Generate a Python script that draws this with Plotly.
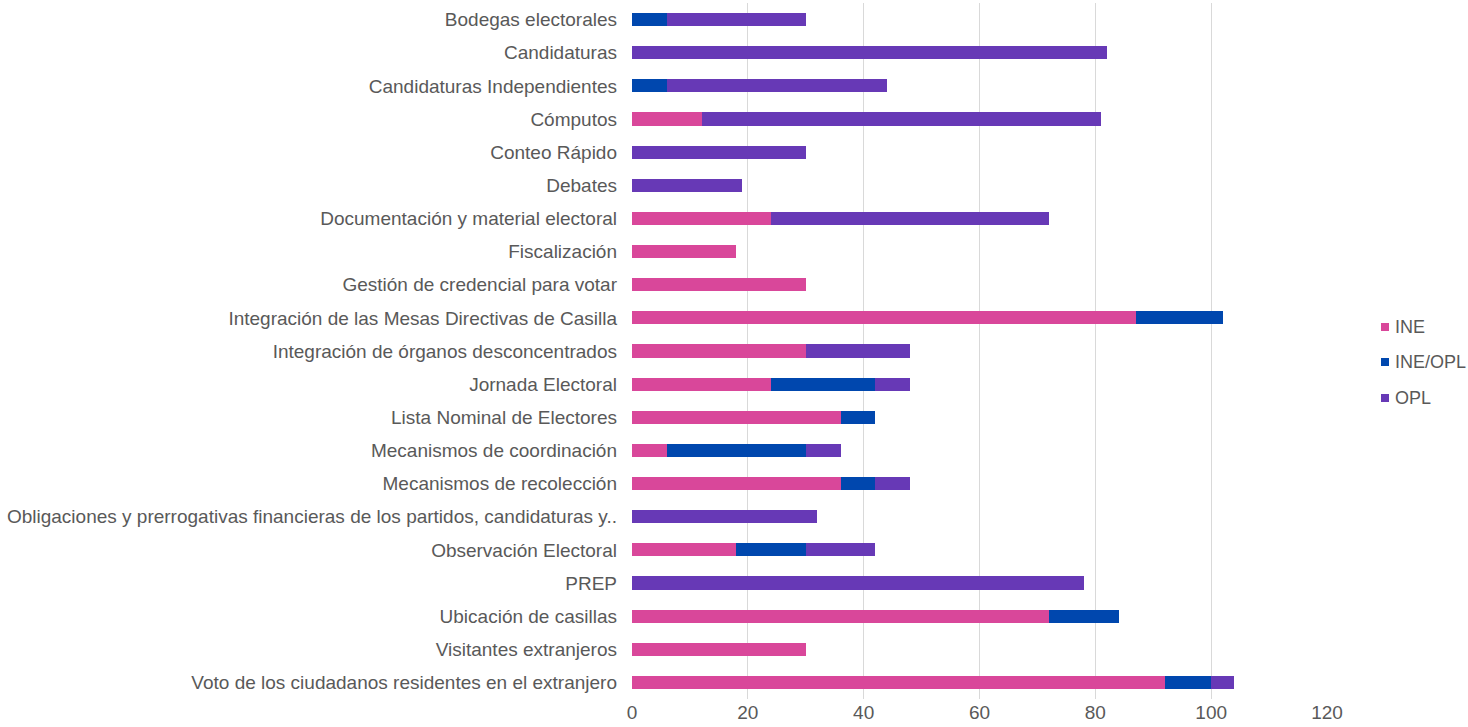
import plotly.graph_objects as go

categories = [
    "Bodegas electorales", "Candidaturas", "Candidaturas Independientes", "Cómputos",
    "Conteo Rápido", "Debates", "Documentación y material electoral", "Fiscalización",
    "Gestión de credencial para votar", "Integración de las Mesas Directivas de Casilla",
    "Integración de órganos desconcentrados", "Jornada Electoral", "Lista Nominal de Electores",
    "Mecanismos de coordinación", "Mecanismos de recolección",
    "Obligaciones y prerrogativas financieras de los partidos, candidaturas y..",
    "Observación Electoral", "PREP", "Ubicación de casillas", "Visitantes extranjeros",
    "Voto de los ciudadanos residentes en el extranjero",
]
ine = [0, 0, 0, 12, 0, 0, 24, 18, 30, 87, 30, 24, 36, 6, 36, 0, 18, 0, 72, 30, 92]
ine_opl = [6, 0, 6, 0, 0, 0, 0, 0, 0, 15, 0, 18, 6, 24, 6, 0, 12, 0, 12, 0, 8]
opl = [24, 82, 38, 69, 30, 19, 48, 0, 0, 0, 18, 6, 0, 6, 6, 32, 12, 78, 0, 0, 4]

series_names = ["INE", "INE/OPL", "OPL"]
series_colors = ["#D9479A", "#0047AE", "#6739B6"]
series_values = [ine, ine_opl, opl]

W, H = 1468, 727
ML, MR, MT, MB = 632, 141, 3, 28
PW, PH = W - ML - MR, H - MT - MB

fig = go.Figure()
for name, vals, color in zip(series_names, series_values, series_colors):
    fig.add_trace(go.Bar(
        y=categories, x=vals, name=name, orientation="h",
        marker=dict(color=color, line=dict(width=0)), showlegend=False,
    ))

# manual legend (small squares + labels), placed in paper coordinates
def px_x(px):
    return (px - ML) / PW

def px_y(py):
    return (H - MB - py) / PH

legend_rows = [327, 362, 398]
for name, color, py in zip(series_names, series_colors, legend_rows):
    fig.add_shape(type="rect", xref="paper", yref="paper",
                  x0=px_x(1381), x1=px_x(1389), y0=px_y(py + 4), y1=px_y(py - 4),
                  fillcolor=color, line=dict(width=0))
    fig.add_annotation(xref="paper", yref="paper", x=px_x(1393), y=px_y(py),
                       xanchor="left", yanchor="middle", showarrow=False, text=name,
                       font=dict(size=18, color="#595959"))

FONT = "Liberation Sans, Arial, Helvetica, sans-serif"
fig.update_layout(
    barmode="stack",
    bargap=0.6,
    width=W, height=H,
    margin=dict(l=ML, r=MR, t=MT, b=MB, autoexpand=False),
    plot_bgcolor="white", paper_bgcolor="white",
    font=dict(family=FONT, size=19, color="#595959"),
    xaxis=dict(range=[0, 120], dtick=20, showgrid=True, gridcolor="#D9D9D9", gridwidth=1,
               zeroline=False, showline=False, ticks="", automargin=False,
               tickfont=dict(size=19, color="#595959")),
    yaxis=dict(autorange="reversed", showgrid=False, showline=False, ticks="",
               automargin=False, ticklabelstandoff=14,
               tickfont=dict(size=19, color="#595959")),
    showlegend=False,
)

fig.write_html("out.html", config={"displayModeBar": False},
               post_script="document.body.style.margin='0';document.body.style.overflow='hidden';")
